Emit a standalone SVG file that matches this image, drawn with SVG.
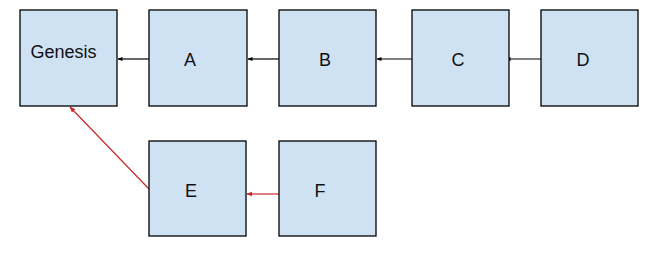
<svg xmlns="http://www.w3.org/2000/svg" width="657" height="278" viewBox="0 0 657 278">
<style>
.box{fill:#cfe2f3;stroke:#000;stroke-width:1.3}
.lbl{font-family:"Liberation Sans",Arial,sans-serif;font-size:18px;fill:#111;text-anchor:middle}
.blk{stroke:#000;stroke-width:1.2;fill:none}
.red{stroke:#c62828;stroke-width:1.2;fill:none}
</style>
<defs>
<marker id="ab" viewBox="0 0 10 10" refX="9" refY="5" markerWidth="5" markerHeight="5" orient="auto" markerUnits="userSpaceOnUse"><path d="M0,1 L10,5 L0,9 z" fill="#000"/></marker>
<marker id="ar" viewBox="0 0 10 10" refX="9" refY="5" markerWidth="6" markerHeight="6" orient="auto" markerUnits="userSpaceOnUse"><path d="M0,1 L10,5 L0,9 z" fill="#c62828"/></marker>
</defs>
<rect width="657" height="278" fill="#fff"/>
<g id="connectors">
<line class="blk" x1="149" y1="59" x2="118" y2="59" marker-end="url(#ab)"/>
<line class="blk" x1="279" y1="59" x2="248" y2="59" marker-end="url(#ab)"/>
<line class="blk" x1="412" y1="59" x2="377" y2="59" marker-end="url(#ab)"/>
<line class="blk" x1="541" y1="59" x2="506" y2="59" marker-end="url(#ab)"/>
<line class="red" x1="149" y1="189" x2="70" y2="107" marker-end="url(#ar)"/>
<line class="red" x1="279" y1="194" x2="247" y2="194" marker-end="url(#ar)"/>
</g>
<g id="genesis"><rect class="box" x="20" y="10" width="97" height="96"/><text class="lbl" x="63.5" y="58">Genesis</text></g>
<g id="a"><rect class="box" x="149" y="10" width="98" height="96"/><text class="lbl" x="190" y="66">A</text></g>
<g id="b"><rect class="box" x="279" y="10" width="97" height="96"/><text class="lbl" x="325" y="66">B</text></g>
<g id="c"><rect class="box" x="412" y="10" width="97" height="96"/><text class="lbl" x="458" y="66">C</text></g>
<g id="d"><rect class="box" x="541" y="10" width="97" height="96"/><text class="lbl" x="583" y="66">D</text></g>
<g id="e"><rect class="box" x="149" y="141" width="97" height="95"/><text class="lbl" x="191" y="197">E</text></g>
<g id="f"><rect class="box" x="279" y="141" width="97" height="95"/><text class="lbl" x="320" y="197">F</text></g>
</svg>
